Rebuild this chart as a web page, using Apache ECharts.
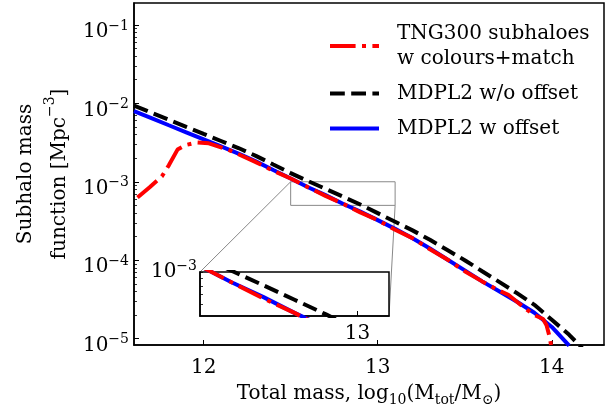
<!DOCTYPE html>
<html><head><meta charset="utf-8">
<script src="https://cdn.jsdelivr.net/npm/echarts@6/dist/echarts.min.js"></script>
<style>html,body{margin:0;padding:0;background:#fff}#c{width:612px;height:412px}</style>
</head><body><div id="c"></div>
<script>
// ---- data ----
const massBlue = [11.6,11.7,11.8,11.9,12.0,12.1,12.2,12.3,12.4,12.5,12.6,12.7,12.8,12.9,13.0,13.1,13.2,13.3,13.4,13.5,13.6,13.7,13.8,13.9,14.0,14.1];
const smfBlue  = [7.94e-3,6.46e-3,5.25e-3,4.27e-3,3.47e-3,2.82e-3,2.29e-3,1.82e-3,1.41e-3,1.10e-3,8.51e-4,6.76e-4,5.25e-4,4.17e-4,3.24e-4,2.51e-4,1.91e-4,1.41e-4,1.02e-4,7.41e-5,5.37e-5,3.98e-5,2.95e-5,2.14e-5,1.41e-5,8.13e-6];
const massBlack = [11.6,11.7,11.8,11.9,12.0,12.1,12.2,12.3,12.4,12.5,12.6,12.7,12.8,12.9,13.0,13.1,13.2,13.3,13.4,13.5,13.6,13.7,13.8,13.9,14.0,14.1,14.2];
const smfBlack  = [9.33e-3,7.59e-3,6.17e-3,5.01e-3,4.07e-3,3.31e-3,2.69e-3,2.14e-3,1.66e-3,1.29e-3,1.02e-3,8.13e-4,6.46e-4,5.13e-4,3.98e-4,3.09e-4,2.40e-4,1.82e-4,1.35e-4,1.00e-4,7.24e-5,5.25e-5,3.80e-5,2.70e-5,1.74e-5,1.12e-5,6.6e-6];
const massRed = [11.62,11.69,11.76,11.80,11.85,11.90,11.96,12.03,12.10,12.15,12.2,12.3,12.4,12.5,12.6,12.7,12.8,12.9,13.0,13.1,13.2,13.3,13.4,13.5,13.6,13.7,13.75,13.8,13.85,13.9,13.95,13.97,13.99,14.01];
const smfRed  = [6.31e-4,8.51e-4,1.17e-3,1.62e-3,2.57e-3,2.95e-3,3.16e-3,3.09e-3,2.75e-3,2.51e-3,2.24e-3,1.78e-3,1.38e-3,1.10e-3,8.51e-4,6.61e-4,5.25e-4,4.07e-4,3.24e-4,2.45e-4,1.91e-4,1.38e-4,1.02e-4,7.24e-5,5.37e-5,4.07e-5,3.63e-5,2.95e-5,2.40e-5,2.00e-5,1.78e-5,1.48e-5,1.00e-5,5.01e-6];

const seriesNames = ['TNG300 subhaloes\nw colours+match', 'MDPL2 w/o offset', 'MDPL2 w offset'];

const xTicks = [12, 13, 14];
const xTickLabels = ['12', '13', '14'];
const yTicks = [1e-5, 1e-4, 1e-3, 1e-2, 1e-1];
const yTickExps = ['−5', '−4', '−3', '−2', '−1'];
const yMinorTicks = [2e-5,3e-5,4e-5,5e-5,6e-5,7e-5,8e-5,9e-5,2e-4,3e-4,4e-4,5e-4,6e-4,7e-4,8e-4,9e-4,2e-3,3e-3,4e-3,5e-3,6e-3,7e-3,8e-3,9e-3,2e-2,3e-2,4e-2,5e-2,6e-2,7e-2,8e-2,9e-2];
const xRange = [11.6, 14.3];
const yRange = [8.3e-6, 0.19];

// inset
const insetX = [12.5, 13.1];
const insetY = [5e-4, 1e-3];
const insetXTicks = [13];
const insetXTickLabels = ['13'];
const insetYTicks = [6e-4, 7e-4, 8e-4, 9e-4, 1e-3];
const insetYLabelTicks = [1e-3];
const insetYLabelExps = ['−3'];

// ---- chart ----
const FONT = 'DejaVu Serif';
const rich = {
  b:   {fontSize: 20, fontFamily: FONT, color: '#000', lineHeight: 26},
  sup: {fontSize: 14, fontFamily: FONT, color: '#000', lineHeight: 12, verticalAlign: 'top'},
  sub: {fontSize: 14, fontFamily: FONT, color: '#000', lineHeight: 16, verticalAlign: 'bottom'}
};
const richName = {
  b:   {fontSize: 20, fontFamily: FONT, color: '#000', lineHeight: 34},
  sup: {fontSize: 14, fontFamily: FONT, color: '#000', lineHeight: 20, verticalAlign: 'top'}
};
const pairs = (xs, ys) => xs.map((x, i) => [x, ys[i]]);
const colors = ['#ff0000', '#000000', '#0000ff'];
const dashes = [[25.6, 6.4, 4, 6.4], [14.8, 6.4], 'solid'];
const datasets = [pairs(massRed, smfRed), pairs(massBlack, smfBlack), pairs(massBlue, smfBlue)];
const zs = [4, 3, 2];

const chart = echarts.init(document.getElementById('c'), null, {renderer: 'canvas'});

const series = [];
for (let i = 0; i < 3; i++) {
  series.push({
    type: 'line', name: seriesNames[i], data: datasets[i], xAxisIndex: 0, yAxisIndex: 0,
    symbol: 'none', showSymbol: false, z: zs[i], animation: false, clip: true,
    lineStyle: {color: colors[i], width: 4, type: dashes[i], cap: 'butt'},
    itemStyle: {color: colors[i]}
  });
}
series.push({
  type: 'line', name: 'zoomBox', data: [], xAxisIndex: 0, yAxisIndex: 0, z: 1, animation: false,
  markArea: {silent: true, itemStyle: {color: 'rgba(0,0,0,0)', borderColor: '#888', borderWidth: 1},
    data: [[{coord: [insetX[0], insetY[1]]}, {coord: [insetX[1], insetY[0]]}]]}
});
for (let i = 0; i < 3; i++) {
  series.push({
    type: 'line', name: seriesNames[i], data: datasets[i], xAxisIndex: 1, yAxisIndex: 2,
    symbol: 'none', showSymbol: false, z: 6 + zs[i], animation: false, clip: true,
    lineStyle: {color: colors[i], width: 4, type: dashes[i], cap: 'butt'},
    itemStyle: {color: colors[i]}
  });
}

chart.setOption({
  animation: false,
  backgroundColor: '#fff',
  textStyle: {fontFamily: FONT},
  grid: [
    {left: 134, right: 8, top: 3, bottom: 66, show: true, borderColor: '#000', borderWidth: 1.5, backgroundColor: 'rgba(0,0,0,0)', z: 0},
    {left: 200, top: 272, width: 189, height: 44, show: true, borderColor: '#000', borderWidth: 1.5, backgroundColor: '#fff', z: 5}
  ],
  legend: {
    data: seriesNames, orient: 'vertical', left: 328, top: 21, itemGap: 10, padding: 0,
    itemWidth: 49, itemHeight: 14, selectedMode: false,
    textStyle: {fontFamily: FONT, fontSize: 20, color: '#000', lineHeight: 25, padding: [0, 0, 0, 13]},
    itemStyle: {opacity: 0, borderWidth: 0},
    lineStyle: {width: 4, opacity: 1}
  },
  xAxis: [
    {type: 'value', gridIndex: 0, min: xRange[0], max: xRange[1],
     name: '{b|Total mass, log}{sub|10}{b|(M}{sub|tot}{b|/M}{sub|⊙}{b|)}',
     nameLocation: 'middle', nameGap: 36, nameTextStyle: {rich: rich},
     axisLine: {show: true, lineStyle: {color: '#000', width: 1.5}},
     axisTick: {show: true, inside: true, length: 5, lineStyle: {color: '#000', width: 1}, customValues: xTicks},
     axisLabel: {show: true, margin: 10, customValues: xTicks,
       formatter: v => '{b|' + xTickLabels[xTicks.indexOf(v)] + '}', rich: rich},
     splitLine: {show: false}},
    {type: 'value', gridIndex: 1, min: insetX[0], max: insetX[1], z: 7,
     axisLine: {show: true, lineStyle: {color: '#000', width: 1.5}},
     axisTick: {show: true, inside: true, length: 5, lineStyle: {color: '#000', width: 1}, customValues: insetXTicks},
     axisLabel: {show: true, margin: 5, customValues: insetXTicks,
       formatter: v => '{b|' + insetXTickLabels[insetXTicks.indexOf(v)] + '}', rich: rich},
     splitLine: {show: false}}
  ],
  yAxis: [
    {type: 'log', gridIndex: 0, min: yRange[0], max: yRange[1], logBase: 10,
     name: '{b|Subhalo mass}\n{b|function [Mpc}{sup|−3}{b|]}',
     nameLocation: 'middle', nameGap: 57, nameTextStyle: {rich: richName},
     axisLine: {show: true, lineStyle: {color: '#000', width: 1.5}},
     axisTick: {show: true, inside: true, length: 5, lineStyle: {color: '#000', width: 1}, customValues: yTicks},
     axisLabel: {show: true, margin: 5, customValues: yTicks, padding: [14, 0, 0, 0],
       formatter: v => { const k = yTicks.findIndex(t => Math.abs(t - v) / t < 1e-6); return k < 0 ? '' : '{b|10}{sup|' + yTickExps[k] + '}'; }, rich: rich},
     splitLine: {show: false}, minorTick: {show: false}},
    {type: 'log', gridIndex: 0, min: yRange[0], max: yRange[1], logBase: 10, position: 'left', offset: 0,
     axisLine: {show: false},
     axisTick: {show: true, inside: true, length: 3, lineStyle: {color: '#000', width: 0.8}, customValues: yMinorTicks},
     axisLabel: {show: false}, splitLine: {show: false}},
    {type: 'log', gridIndex: 1, min: insetY[0], max: insetY[1], logBase: 10, z: 7,
     axisLine: {show: true, lineStyle: {color: '#000', width: 1.5}},
     axisTick: {show: true, inside: true, length: 3, lineStyle: {color: '#000', width: 0.8}, customValues: insetYTicks},
     axisLabel: {show: true, margin: 3, customValues: insetYLabelTicks,
       formatter: v => { const k = insetYLabelTicks.findIndex(t => Math.abs(t - v) / t < 1e-6); return k < 0 ? '' : '{b|10}{sup|' + insetYLabelExps[k] + '}'; }, rich: rich},
     splitLine: {show: false}}
  ],
  series: series
});

// connector lines from the zoom box to the inset corners
const P0 = v => chart.convertToPixel({xAxisIndex: 0, yAxisIndex: 0}, v);
const P1 = v => chart.convertToPixel({xAxisIndex: 1, yAxisIndex: 2}, v);
const a1 = P0([insetX[0], insetY[1]]), b1 = P1([insetX[0], insetY[1]]);
const a2 = P0([insetX[1], insetY[0]]), b2 = P1([insetX[1], insetY[0]]);
chart.setOption({graphic: [
  {type: 'line', z: 1, silent: true, shape: {x1: a1[0], y1: a1[1], x2: b1[0], y2: b1[1]}, style: {stroke: '#888', lineWidth: 1}},
  {type: 'line', z: 1, silent: true, shape: {x1: a2[0], y1: a2[1], x2: b2[0], y2: b2[1]}, style: {stroke: '#888', lineWidth: 1}}
]});
</script></body></html>
